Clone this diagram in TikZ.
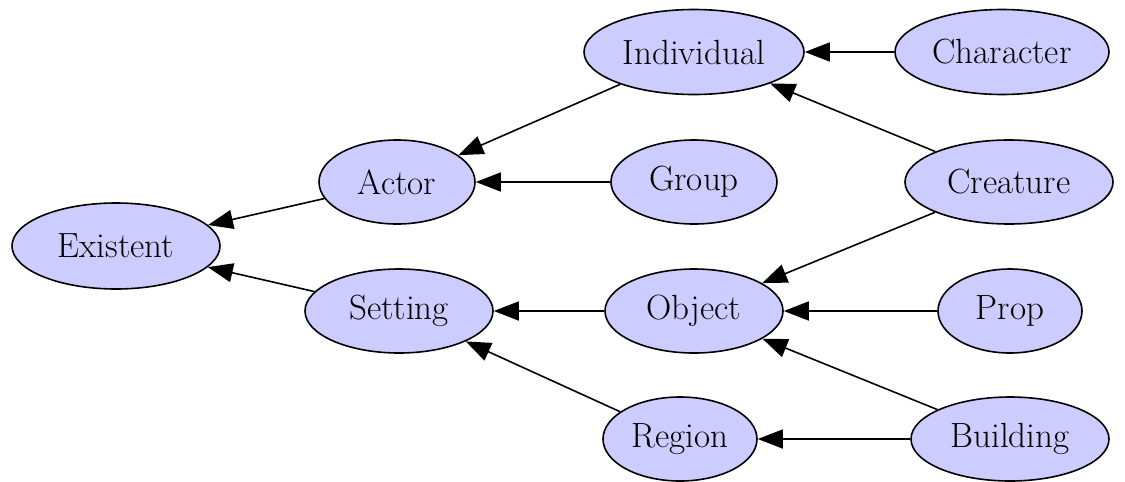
\documentclass[tikz,border=0pt]{standalone}
\usetikzlibrary{shapes.geometric,arrows.meta}
\definecolor{nodefill}{HTML}{CCCCFF}
\begin{document}
\begin{tikzpicture}[x=1pt,y=-1pt,
  ent/.style={ellipse,draw=black,line width=1.6pt,fill=nodefill,inner sep=0pt,
    font=\fontsize{35}{42}\selectfont},
  isa/.style={line width=1.6pt,-{Triangle[length=25pt,width=19pt]}}]
\useasboundingbox (0,0) rectangle (1125,482);
\node[ent,minimum width=208pt,minimum height=86pt] (existent) at (116,246) {Existent};
\node[ent,minimum width=156pt,minimum height=84pt] (actor) at (397,182) {Actor};
\node[ent,minimum width=188pt,minimum height=84pt] (setting) at (399,311) {Setting};
\node[ent,minimum width=220pt,minimum height=85pt] (individual) at (694,52) {Individual};
\node[ent,minimum width=214pt,minimum height=85pt] (character) at (1002,52) {Character};
\node[ent,minimum width=166pt,minimum height=84pt] (group) at (694,182) {Group};
\node[ent,minimum width=208pt,minimum height=84pt] (creature) at (1009,182) {Creature};
\node[ent,minimum width=178pt,minimum height=84pt] (object) at (694,311) {Object};
\node[ent,minimum width=144pt,minimum height=84pt] (prop) at (1010,311) {Prop};
\node[ent,minimum width=154pt,minimum height=84pt] (region) at (680,439) {Region};
\node[ent,minimum width=198pt,minimum height=84pt] (building) at (1010,439) {Building};
\draw[isa] (actor) -- (existent);
\draw[isa] (setting) -- (existent);
\draw[isa] (individual) -- (actor);
\draw[isa] (group) -- (actor);
\draw[isa] (character) -- (individual);
\draw[isa] (creature) -- (individual);
\draw[isa] (creature) -- (object);
\draw[isa] (object) -- (setting);
\draw[isa] (prop) -- (object);
\draw[isa] (building) -- (object);
\draw[isa] (building) -- (region);
\draw[isa] (region) -- (setting);
\end{tikzpicture}
\end{document}
